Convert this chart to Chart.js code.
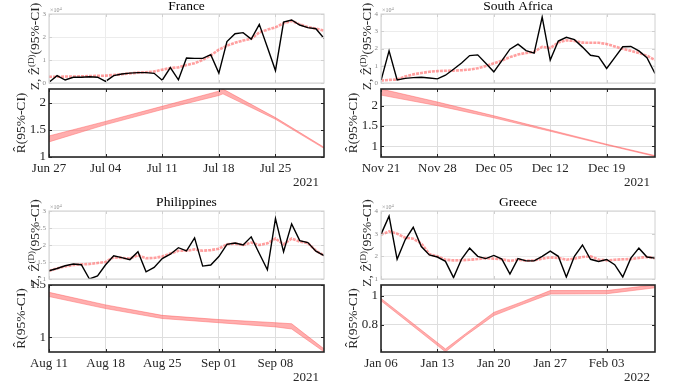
<!DOCTYPE html>
<html><head><meta charset="utf-8">
<script src="https://cdn.jsdelivr.net/npm/chart.js@4.4.1/dist/chart.umd.min.js"></script>
<style>
html,body{margin:0;padding:0;background:#fff;}
#wrap{position:relative;width:675px;height:391px;overflow:hidden;background:#fff;}
canvas{position:absolute;}
</style></head><body><div id="wrap"></div>
<script>
// ---------- DATA (cases in units of 10^4, daily) ----------
const tickDays = [0, 7, 14, 21, 28];

const franceDates = ['Jun 27','Jul 04','Jul 11','Jul 18','Jul 25'];
const franceYear = '2021';
const franceCases = [0.03,0.32,0.13,0.25,0.25,0.27,0.25,0.07,0.32,0.39,0.43,0.45,0.45,0.42,0.12,0.67,0.14,1.09,1.07,1.07,1.23,0.43,1.80,2.14,2.19,1.91,2.55,1.55,0.54,2.65,2.74,2.52,2.41,2.36,1.94];
const franceEst = [0.27,0.27,0.28,0.28,0.29,0.30,0.31,0.32,0.35,0.38,0.42,0.45,0.47,0.50,0.58,0.65,0.68,0.78,0.86,1.00,1.20,1.45,1.62,1.75,1.85,1.92,2.20,2.32,2.42,2.60,2.70,2.55,2.43,2.37,2.27];
const franceCaseTicks = [0, 1, 2, 3];
const franceRDays = [0, 7, 14, 21, 21.5, 28, 34];
const franceRLow  = [1.28, 1.60, 1.88, 2.14, 2.17, 1.70, 1.16];
const franceRHigh = [1.39, 1.66, 1.94, 2.22, 2.26, 1.73, 1.18];
const franceRTicks = [1, 1.5, 2];

const safDates = ['Nov 21','Nov 28','Dec 05','Dec 12','Dec 19'];
const safYear = '2021';
const safCases = [0.14,1.86,0.18,0.27,0.31,0.33,0.29,0.24,0.45,0.80,1.16,1.59,1.63,1.14,0.65,1.30,1.96,2.25,1.88,1.73,3.82,1.33,2.43,2.65,2.51,2.08,1.61,1.53,0.84,1.47,2.10,2.12,1.86,1.47,0.55];
const safEst = [0.14,0.18,0.20,0.38,0.50,0.58,0.65,0.69,0.71,0.72,0.74,0.78,0.86,0.98,1.14,1.30,1.50,1.65,1.74,1.80,2.10,2.02,2.35,2.47,2.44,2.34,2.33,2.33,2.26,2.12,1.98,1.87,1.74,1.58,1.33];
const safCaseTicks = [0, 1, 2, 3, 4];
const safRDays = [0, 7, 14, 21, 28, 34];
const safRLow  = [2.26, 2.00, 1.70, 1.37, 1.03, 0.75];
const safRHigh = [2.41, 2.09, 1.75, 1.40, 1.05, 0.77];
const safRTicks = [1, 1.5, 2];

const phlDates = ['Aug 11','Aug 18','Aug 25','Sep 01','Sep 08'];
const phlYear = '2021';
const phlCases = [1.24,1.31,1.39,1.44,1.42,1.00,1.09,1.42,1.68,1.63,1.57,1.80,1.21,1.34,1.60,1.73,1.92,1.83,2.21,1.38,1.41,1.66,2.02,2.06,2.00,2.24,1.75,1.27,2.78,1.80,2.62,2.13,2.07,1.82,1.69];
const phlEst = [1.24,1.31,1.37,1.41,1.43,1.44,1.47,1.50,1.64,1.62,1.60,1.70,1.61,1.62,1.66,1.75,1.83,1.83,1.87,1.83,1.85,1.89,2.02,2.04,2.00,2.07,2.00,2.05,2.19,2.02,2.19,2.10,2.06,1.83,1.69];
const phlCaseTicks = [1, 1.5, 2, 2.5, 3];
const phlRDays = [0, 7, 14, 21, 28, 30, 34];
const phlRLow  = [1.39, 1.275, 1.18, 1.14, 1.10, 1.08, 0.862];
const phlRHigh = [1.43, 1.31, 1.21, 1.17, 1.14, 1.13, 0.89];
const phlRTicks = [1, 1.5];

const grcDates = ['Jan 06','Jan 13','Jan 20','Jan 27','Feb 03'];
const grcYear = '2022';
const grcCases = [2.97,3.77,1.87,2.73,3.28,2.43,2.06,1.97,1.78,1.06,1.88,2.36,2.00,1.90,2.04,1.88,1.22,1.90,1.80,1.80,2.00,2.23,2.00,1.09,2.00,2.50,1.87,1.77,1.86,1.63,1.09,1.92,2.36,1.97,1.92];
const grcEst = [2.95,3.10,3.00,2.82,2.78,2.57,2.10,2.00,1.85,1.82,1.83,1.85,1.88,1.92,1.90,1.87,1.80,1.86,1.80,1.82,1.90,1.95,1.93,1.85,1.90,1.97,2.00,1.86,1.82,1.85,1.87,1.88,1.93,1.97,1.92];
const grcCaseTicks = [1, 2, 3, 4];
const grcRDays = [0, 8, 10.5, 14, 17.5, 21, 28, 34];
const grcRLow  = [0.966, 0.615, 0.726, 0.864, 0.940, 1.012, 1.014, 1.055];
const grcRHigh = [0.982, 0.635, 0.740, 0.886, 0.958, 1.036, 1.036, 1.075];
const grcRTicks = [0.8, 1];

// ---------- RENDERING ----------
const SERIF = '"Liberation Serif", "DejaVu Serif", serif';
const wrap = document.getElementById('wrap');

function drawRuns(ctx, runs, cx, cy, rotate) {
  ctx.save();
  ctx.translate(cx, cy);
  if (rotate) ctx.rotate(-Math.PI / 2);
  ctx.textBaseline = 'alphabetic';
  let total = 0;
  runs.forEach(r => { ctx.font = r.size + 'px ' + SERIF; r.w = ctx.measureText(r.t).width; total += r.w; });
  let x = -total / 2;
  ctx.textAlign = 'left';
  runs.forEach(r => { ctx.font = r.size + 'px ' + SERIF; ctx.fillText(r.t, x, 4.5 - (r.rise || 0)); x += r.w; });
  ctx.restore();
}

const decor = {
  id: 'decor',
  afterDraw(chart, args, o) {
    const ctx = chart.ctx, a = chart.chartArea;
    const xs = chart.scales.x, ys = chart.scales.y;
    ctx.save();
    ctx.strokeStyle = o.frameColor; ctx.lineWidth = 1;
    ctx.beginPath();
    xs.ticks.forEach(t => {
      const p = Math.round(xs.getPixelForValue(t.value)) + 0.5;
      ctx.moveTo(p, a.bottom); ctx.lineTo(p, a.bottom - 3);
      ctx.moveTo(p, a.top); ctx.lineTo(p, a.top + 3);
    });
    ys.ticks.forEach(t => {
      const p = Math.round(ys.getPixelForValue(t.value)) + 0.5;
      ctx.moveTo(a.left, p); ctx.lineTo(a.left + 3, p);
      ctx.moveTo(a.right, p); ctx.lineTo(a.right - 3, p);
    });
    ctx.stroke();
    ctx.lineWidth = o.frameWidth;
    ctx.strokeRect(a.left, a.top, a.right - a.left, a.bottom - a.top);
    ctx.fillStyle = '#000';
    if (o.title) {
      ctx.font = '13.5px ' + SERIF; ctx.textAlign = 'center'; ctx.textBaseline = 'middle';
      ctx.fillText(o.title, (a.left + a.right) / 2, a.top - o.titleOffset);
    }
    if (o.exp) {
      ctx.fillStyle = '#8a8a8a'; ctx.textAlign = 'left'; ctx.textBaseline = 'alphabetic';
      ctx.font = '6px ' + SERIF; ctx.fillText('\u00d710', a.left + 1, a.top - 2);
      const w = ctx.measureText('\u00d710').width;
      ctx.font = '4.5px ' + SERIF; ctx.fillText('4', a.left + 1 + w, a.top - 4.5);
    }
    ctx.fillStyle = '#262626';
    if (o.year) {
      ctx.font = '13px ' + SERIF; ctx.textAlign = 'right'; ctx.textBaseline = 'middle';
      ctx.fillText(o.year, a.right - 5, a.bottom + 25.5);
    }
    if (o.ylabel === 'top') {
      drawRuns(ctx, [{t: 'Z, \u1E90', size: 13.5}, {t: '(D)', size: 9, rise: 5}, {t: '(95%-CI)', size: 13.5}],
        a.left - 15, (a.top + a.bottom) / 2 - 2, true);
    } else if (o.ylabel === 'bottom') {
      drawRuns(ctx, [{t: 'R\u0302(95%-CI)', size: 13.5}], a.left - 29, (a.top + a.bottom) / 2, true);
    }
    ctx.restore();
  }
};

function pts(days, vals) { return vals.map((v, i) => ({x: days ? days[i] : i, y: v})); }

function panel(p) {
  const c = document.createElement('canvas');
  c.width = p.w; c.height = p.h;
  c.style.left = p.x + 'px'; c.style.top = p.y + 'px';
  c.style.width = p.w + 'px'; c.style.height = p.h + 'px';
  wrap.appendChild(c);
  const A = p.area;
  const isTop = p.kind === 'top';
  const gridColor = isTop ? '#ececec' : '#dedede';
  new Chart(c.getContext('2d'), {
    type: 'line',
    data: {datasets: p.datasets},
    options: {
      responsive: false, animation: false, devicePixelRatio: 1,
      layout: {padding: {left: 0, top: A.t, right: p.w - A.r, bottom: 0}},
      plugins: {legend: {display: false}, tooltip: {enabled: false}, title: {display: false}, decor: p.decor},
      elements: {point: {radius: 0}, line: {tension: 0}},
      scales: {
        x: {
          type: 'linear', min: 0, max: 34,
          afterBuildTicks: s => { s.ticks = tickDays.map(v => ({value: v})); },
          afterFit: s => { s.height = p.h - A.b; s.paddingLeft = 0; s.paddingRight = 0; },
          ticks: {display: !isTop, autoSkip: false, maxRotation: 0, padding: 4, color: '#262626',
                  font: {family: SERIF, size: 13}, callback: (v, i) => p.dates[i]},
          grid: {color: gridColor, lineWidth: 1, drawTicks: false},
          border: {display: false}
        },
        y: {
          type: 'linear', min: p.ymin, max: p.ymax,
          afterBuildTicks: s => { s.ticks = p.yticks.map(v => ({value: v})); },
          afterFit: s => { s.width = A.l; s.paddingTop = 0; s.paddingBottom = 0; },
          ticks: isTop
            ? {padding: 3, color: '#8a8a8a', font: {family: SERIF, size: 7}, callback: v => String(v)}
            : {padding: 3, color: '#262626', font: {family: SERIF, size: 13}, callback: v => String(v)},
          grid: {color: gridColor, lineWidth: 1, drawTicks: false},
          border: {display: false}
        }
      }
    },
    plugins: [decor]
  });
}

function topSets(cases, est) {
  return [
    {data: pts(null, cases), borderColor: '#000', borderWidth: 1.4, fill: false},
    {data: pts(null, est), borderColor: 'rgba(255,80,80,0.55)', borderWidth: 2.6, borderDash: [3, 1], fill: false}
  ];
}
function bottomSets(days, low, high) {
  return [
    {data: pts(days, high), borderColor: 'rgba(255,80,80,0.55)', borderWidth: 0.8, fill: '+1', backgroundColor: 'rgba(255,120,120,0.6)'},
    {data: pts(days, low), borderColor: 'rgba(255,80,80,0.55)', borderWidth: 0.8, fill: false}
  ];
}

const L = {x: 0, w: 337, l: 49, r: 324};
const R = {x: 337, w: 338, l: 44, r: 318};
const rows = [
  {top: {y: 0, h: 100, t: 14, b: 83, off: 8}, bot: {y: 84, h: 111, t: 5, b: 73}},
  {top: {y: 190, h: 100, t: 21, b: 89, off: 9}, bot: {y: 281, h: 110, t: 4, b: 71}}
];
const countries = [
  {col: L, row: rows[0], title: 'France', dates: franceDates, year: franceYear, cases: franceCases, est: franceEst,
   cTicks: franceCaseTicks, cMin: 0, cMax: 3, rDays: franceRDays, rLow: franceRLow, rHigh: franceRHigh, rTicks: franceRTicks, rMin: 1, rMax: 2.26},
  {col: R, row: rows[0], title: 'South Africa', dates: safDates, year: safYear, cases: safCases, est: safEst,
   cTicks: safCaseTicks, cMin: 0, cMax: 4, rDays: safRDays, rLow: safRLow, rHigh: safRHigh, rTicks: safRTicks, rMin: 0.735, rMax: 2.41},
  {col: L, row: rows[1], title: 'Philippines', dates: phlDates, year: phlYear, cases: phlCases, est: phlEst,
   cTicks: phlCaseTicks, cMin: 1, cMax: 3, rDays: phlRDays, rLow: phlRLow, rHigh: phlRHigh, rTicks: phlRTicks, rMin: 0.86, rMax: 1.5},
  {col: R, row: rows[1], title: 'Greece', dates: grcDates, year: grcYear, cases: grcCases, est: grcEst,
   cTicks: grcCaseTicks, cMin: 1, cMax: 4, rDays: grcRDays, rLow: grcRLow, rHigh: grcRHigh, rTicks: grcRTicks, rMin: 0.614, rMax: 1.074}
];

countries.forEach(k => {
  const c = k.col, t = k.row.top, b = k.row.bot;
  panel({kind: 'top', x: c.x, y: t.y, w: c.w, h: t.h, area: {l: c.l, r: c.r, t: t.t, b: t.b},
    dates: k.dates, ymin: k.cMin, ymax: k.cMax, yticks: k.cTicks, datasets: topSets(k.cases, k.est),
    decor: {frameColor: '#d0d0d0', frameWidth: 1, title: k.title, titleOffset: t.off, exp: true, ylabel: 'top'}});
  panel({kind: 'bottom', x: c.x, y: b.y, w: c.w, h: b.h, area: {l: c.l, r: c.r, t: b.t, b: b.b},
    dates: k.dates, ymin: k.rMin, ymax: k.rMax, yticks: k.rTicks, datasets: bottomSets(k.rDays, k.rLow, k.rHigh),
    decor: {frameColor: '#262626', frameWidth: 1.6, year: k.year, ylabel: 'bottom'}});
});
</script></body></html>
